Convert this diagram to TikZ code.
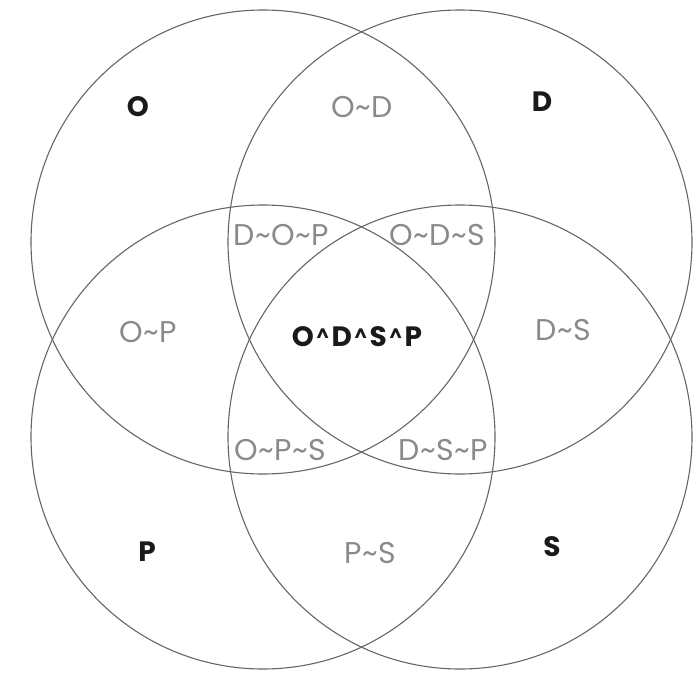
\documentclass[tikz,border=0pt]{standalone}
\usepackage{fontspec}
\setmainfont{Poppins}
\definecolor{ringcol}{HTML}{666666}
\definecolor{sublabel}{HTML}{8A8A8A}
\definecolor{mainlabel}{HTML}{1A1A1A}
% small raised caret joining the set names in the centre label
\newcommand{\hatjoin}{\hspace{2.5pt}\raisebox{5pt}{\fontsize{18}{18}\selectfont\textasciicircum}\hspace{2.5pt}}
% tilde joining the set names in the overlap labels
\newcommand{\tjoin}{\hspace{0.5pt}\textasciitilde\hspace{0.5pt}}
\begin{document}
\begin{tikzpicture}[x=1pt,y=-1pt,
  ring/.style={draw=ringcol,line width=1.1pt},
  setname/.style={text=mainlabel,font=\fontsize{28}{30}\selectfont\bfseries,inner sep=0pt},
  overlap/.style={text=sublabel,font=\fontsize{30}{32}\selectfont,inner sep=0pt}]
\useasboundingbox (0,0) rectangle (700,674);
% circle centres
\coordinate (cO) at (263,242);
\coordinate (cD) at (460,242);
\coordinate (cP) at (263,437);
\coordinate (cS) at (460,437);
\def\rad{232}
\draw[ring] (cO) circle (\rad);
\draw[ring] (cD) circle (\rad);
\draw[ring] (cP) circle (\rad);
\draw[ring] (cS) circle (\rad);
% single sets
\node[setname] (lO) at (138,107) {O};
\node[setname] (lD) at (542,102) {D};
\node[setname] (lP) at (147,552) {P};
\node[setname] (lS) at (552,547) {S};
% pairwise overlaps
\node[overlap] (lOD) at (362,107) {O\tjoin D};
\node[overlap] (lOP) at (148,332) {O\tjoin P};
\node[overlap] (lDS) at (563,330) {D\tjoin S};
\node[overlap] (lPS) at (370,553) {P\tjoin S};
% triple overlaps
\node[overlap] (lDOP) at (281,235) {D\tjoin O\tjoin P};
\node[overlap] (lODS) at (437,235) {O\tjoin D\tjoin S};
\node[overlap] (lOPS) at (280,450) {O\tjoin P\tjoin S};
\node[overlap] (lDSP) at (443,450) {D\tjoin S\tjoin P};
% all four
\node[setname] (lall) at (357,337) {O\hatjoin D\hatjoin S\hatjoin P};
\end{tikzpicture}
\end{document}
